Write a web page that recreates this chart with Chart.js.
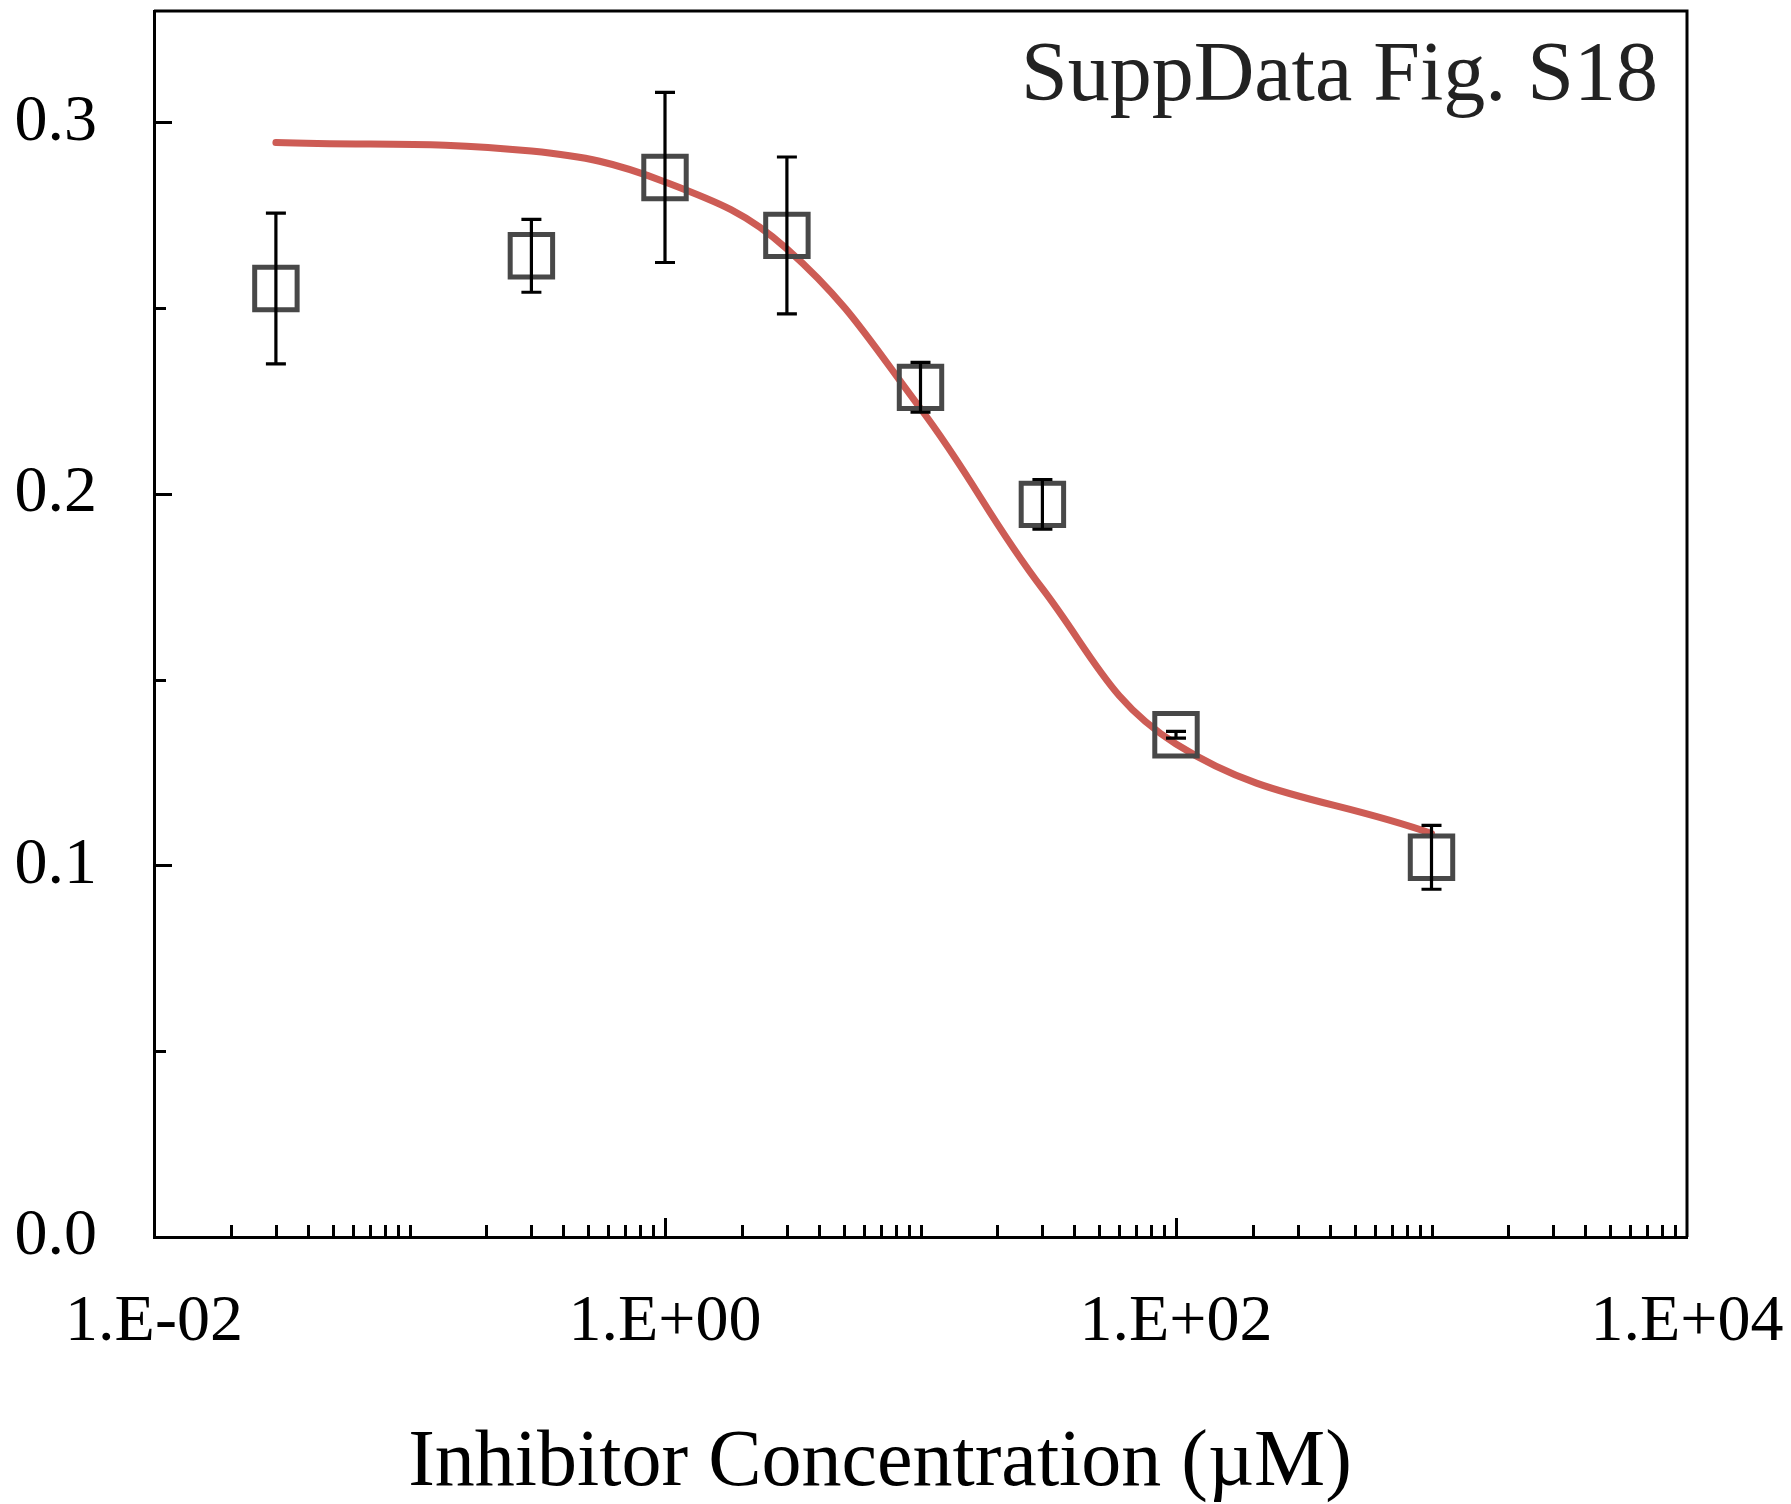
<!DOCTYPE html>
<html>
<head>
<meta charset="utf-8">
<script src="https://cdn.jsdelivr.net/npm/chart.js@4"></script>
<style>
  html, body { margin: 0; padding: 0; background: #fff; }
  #wrap { width: 1791px; height: 1504px; }
</style>
</head>
<body>
<div id="wrap"><canvas id="myChart" width="1791" height="1504"></canvas></div>
<script>
// concentrations in uM, measured means with error, and the fitted curve at the same points
const concentrations = [0.03, 0.3, 1, 3, 10, 30, 100, 1000];
const meanValues = [0.2553, 0.2641, 0.2852, 0.2696, 0.2287, 0.1972, 0.1352, 0.1022];
const errorValues = [0.0203, 0.0098, 0.0229, 0.0211, 0.0067, 0.0067, 0.0009, 0.0086];
const fitValues = [0.2946, 0.2923, 0.2840, 0.2660, 0.2230, 0.1745, 0.1327, 0.1086];

const xTickValues = [0.01, 1, 100, 10000];
const xTickLabels = ['1.E-02', '1.E+00', '1.E+02', '1.E+04'];
const yTickValues = [0, 0.1, 0.2, 0.3];
const yMinorTicks = [0.05, 0.15, 0.25];

const FONT = '"Liberation Serif", "Times New Roman", serif';

// box frame, inward ticks, error bars and the two free texts
const decorations = {
  id: 'decorations',
  afterDatasetsDraw(chart) {
    const { ctx, scales: { x, y } } = chart;
    ctx.save();
    ctx.strokeStyle = '#000';
    ctx.lineWidth = 3.2;
    ctx.lineCap = 'butt';
    // error bars
    concentrations.forEach((c, i) => {
      const px = x.getPixelForValue(c);
      const top = y.getPixelForValue(meanValues[i] + errorValues[i]);
      const bot = y.getPixelForValue(meanValues[i] - errorValues[i]);
      ctx.beginPath();
      ctx.moveTo(px, top); ctx.lineTo(px, bot);
      ctx.moveTo(px - 10, top); ctx.lineTo(px + 10, top);
      ctx.moveTo(px - 10, bot); ctx.lineTo(px + 10, bot);
      ctx.stroke();
    });
    ctx.restore();
  },
  afterDraw(chart) {
    const { ctx, chartArea: a, scales: { x, y } } = chart;
    ctx.save();
    ctx.strokeStyle = '#000';
    ctx.lineWidth = 3;
    // top and right side of the box
    ctx.beginPath();
    ctx.moveTo(a.left, a.top);
    ctx.lineTo(a.right, a.top);
    ctx.lineTo(a.right, a.bottom);
    ctx.stroke();
    // x ticks pointing up
    ctx.beginPath();
    for (let d = -2; d < 4; d++) {
      for (let m = 1; m < 10; m++) {
        if (d === -2 && m === 1) continue;
        const v = m * Math.pow(10, d);
        const px = Math.round(x.getPixelForValue(v)) + 0.5;
        const len = (m === 1 && xTickValues.includes(v)) ? 19 : 12;
        ctx.moveTo(px, a.bottom);
        ctx.lineTo(px, a.bottom - len);
      }
    }
    // y ticks pointing right
    yTickValues.slice(1).forEach(v => {
      const py = Math.round(y.getPixelForValue(v)) + 0.5;
      ctx.moveTo(a.left, py); ctx.lineTo(a.left + 18, py);
    });
    yMinorTicks.forEach(v => {
      const py = Math.round(y.getPixelForValue(v)) + 0.5;
      ctx.moveTo(a.left, py); ctx.lineTo(a.left + 12, py);
    });
    ctx.stroke();

    // figure label
    ctx.fillStyle = '#222';
    ctx.font = '84px ' + FONT;
    ctx.textAlign = 'right';
    ctx.textBaseline = 'alphabetic';
    ctx.fillText('SuppData Fig. S18', 1658, 100);

    // x axis title
    ctx.fillStyle = '#000';
    ctx.font = '80px ' + FONT;
    ctx.textAlign = 'center';
    ctx.fillText('Inhibitor Concentration (\u00b5M)', 880, 1485);
    ctx.restore();
  }
};

function noPadding(scale) {
  scale.paddingTop = 0;
  scale.paddingBottom = 0;
  scale.paddingLeft = 0;
  scale.paddingRight = 0;
}

const ctx = document.getElementById('myChart');

new Chart(ctx, {
  type: 'scatter',
  data: {
    datasets: [{
      label: 'measured',
      data: concentrations.map((c, i) => ({ x: c, y: meanValues[i] })),
      pointStyle: 'rect',
      pointRadius: 30,
      pointHoverRadius: 30,
      borderColor: '#484848',
      backgroundColor: 'rgba(0,0,0,0)',
      borderWidth: 5
    }, {
      label: 'fit',
      data: concentrations.map((c, i) => ({ x: c, y: fitValues[i] })),
      showLine: true,
      tension: 0.4,
      pointRadius: 0,
      borderColor: '#cd5c55',
      borderWidth: 7,
      borderCapStyle: 'round'
    }]
  },
  options: {
    responsive: false,
    animation: false,
    layout: { autoPadding: false, padding: { top: 11, right: 104, left: 0, bottom: 0 } },
    plugins: {
      legend: { display: false },
      tooltip: { enabled: false }
    },
    scales: {
      x: {
        type: 'logarithmic',
        min: 0.01,
        max: 10000,
        grid: { display: false, drawTicks: false },
        border: { display: true, color: '#000', width: 3 },
        afterBuildTicks: (scale) => { scale.ticks = xTickValues.map(v => ({ value: v })); },
        afterFit: (scale) => { scale.height = 267; noPadding(scale); },
        ticks: {
          padding: 46,
          color: '#000',
          font: { family: FONT, size: 66 },
          maxRotation: 0,
          autoSkip: false,
          callback: (value) => xTickLabels[xTickValues.indexOf(value)]
        }
      },
      y: {
        min: 0,
        max: 0.33,
        grid: { display: false, drawTicks: false },
        border: { display: true, color: '#000', width: 3 },
        afterBuildTicks: (scale) => { scale.ticks = yTickValues.map(v => ({ value: v })); },
        afterFit: (scale) => { scale.width = 154; noPadding(scale); },
        ticks: {
          padding: 57,
          color: '#000',
          font: { family: FONT, size: 66 },
          callback: (value) => value.toFixed(1)
        }
      }
    }
  },
  plugins: [decorations]
});
</script>
</body>
</html>
